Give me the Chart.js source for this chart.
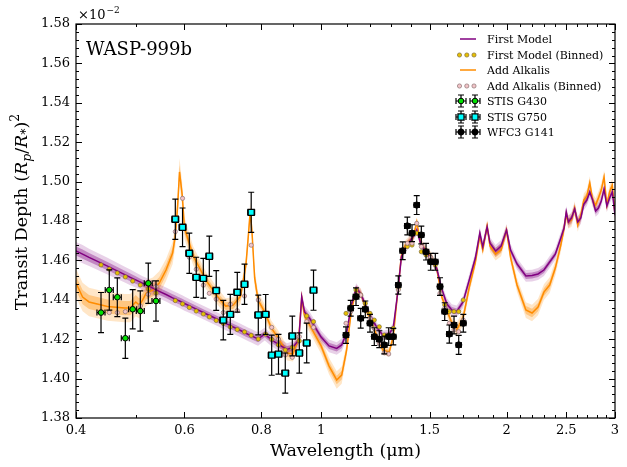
<!DOCTYPE html>
<html><head><meta charset="utf-8">
<script src="https://cdn.jsdelivr.net/npm/chart.js@4.4.1/dist/chart.umd.min.js"></script>
<style>html,body{margin:0;padding:0;background:#fff;}canvas{display:block;}</style>
</head><body>
<canvas id="c" width="627" height="467"></canvas>
<script>
// ---- model spectra (shared wavelength grid, µm) ----
const modelWave = [0.40,0.41,0.42,0.45,0.48,0.49,0.50,0.507,0.513,0.52,0.533,0.546,0.56,0.574,0.58,0.585,0.589,0.595,0.60,0.62,0.65,0.68,0.70,0.72,0.74,0.755,0.762,0.767,0.772,0.78,0.79,0.81,0.83,0.85,0.88,0.90,0.92,0.93,0.94,0.96,1.00,1.03,1.06,1.08,1.10,1.12,1.14,1.16,1.18,1.20,1.23,1.26,1.29,1.31,1.33,1.35,1.37,1.39,1.41,1.43,1.45,1.48,1.51,1.54,1.57,1.60,1.63,1.66,1.70,1.74,1.78,1.81,1.83,1.86,1.88,1.92,1.96,2.00,2.03,2.08,2.15,2.20,2.25,2.30,2.35,2.40,2.45,2.48,2.50,2.52,2.55,2.58,2.61,2.64,2.67,2.70,2.73,2.76,2.79,2.82,2.85,2.88,2.91,2.94,2.97,3.00];
const firstModel = [1.4648,1.4632,1.4615,1.4571,1.4528,1.4514,1.4501,1.4492,1.4484,1.4476,
1.4459,1.4443,1.4427,1.4410,1.4404,1.4398,1.4394,1.4387,1.4381,1.4360,
1.4329,1.4300,1.4280,1.4262,1.4244,1.4230,1.4224,1.4220,1.4216,1.4209,
1.4201,1.4226,1.4198,1.4176,1.4148,1.4158,1.4196,1.4415,1.4338,1.4302,
1.4211,1.4166,1.4153,1.4171,1.4232,1.4374,1.4460,1.4430,1.4374,1.4323,
1.4262,1.4219,1.4226,1.4262,1.4424,1.4617,1.4663,1.4693,1.4719,1.4754,
1.4688,1.4643,1.4607,1.4561,1.4455,1.4379,1.4348,1.4341,1.4389,1.4501,
1.4612,1.4739,1.4668,1.4770,1.4688,1.4648,1.4673,1.4754,1.4653,1.4582,
1.4521,1.4523,1.4531,1.4551,1.4592,1.4632,1.4714,1.4764,1.4846,1.4795,
1.4815,1.4861,1.4795,1.4815,1.4886,1.4906,1.4947,1.4906,1.4851,1.4866,
1.4902,1.4962,1.4876,1.4917,1.4947,1.4830];
const firstModelSigma = [0.0023,0.0023,0.0022,0.0021,0.0020,0.0020,0.0019,0.0018,0.0018,0.0018,
0.0018,0.0018,0.0018,0.0018,0.0018,0.0018,0.0018,0.0018,0.0018,0.0017,
0.0017,0.0017,0.0017,0.0017,0.0017,0.0017,0.0017,0.0017,0.0017,0.0017,
0.0017,0.0016,0.0016,0.0016,0.0016,0.0016,0.0016,0.0016,0.0016,0.0016,
0.0016,0.0016,0.0016,0.0016,0.0016,0.0012,0.0012,0.0012,0.0012,0.0012,
0.0012,0.0012,0.0012,0.0012,0.0012,0.0012,0.0012,0.0012,0.0012,0.0012,
0.0012,0.0012,0.0012,0.0012,0.0012,0.0015,0.0015,0.0015,0.0015,0.0015,
0.0015,0.0015,0.0015,0.0015,0.0015,0.0015,0.0015,0.0015,0.0015,0.0015,
0.0015,0.0015,0.0015,0.0015,0.0015,0.0015,0.0015,0.0015,0.0015,0.0015,
0.0015,0.0015,0.0015,0.0015,0.0015,0.0015,0.0015,0.0015,0.0015,0.0015,
0.0015,0.0015,0.0015,0.0015,0.0015,0.0015];
const alkaliModel = [1.4485,1.4414,1.4389,1.4366,1.4358,1.4358,1.4389,1.4373,1.4398,1.4434,
1.4449,1.4485,1.4551,1.4637,1.4729,1.4881,1.5049,1.4932,1.4764,1.4622,
1.4500,1.4414,1.4368,1.4373,1.4419,1.4577,1.4729,1.4846,1.4754,1.4511,
1.4399,1.4338,1.4257,1.4211,1.4130,1.4125,1.4206,1.4410,1.4318,1.4267,
1.4166,1.4064,1.3993,1.4018,1.4145,1.4348,1.4450,1.4434,1.4358,1.4307,
1.4221,1.4145,1.4135,1.4216,1.4424,1.4627,1.4678,1.4698,1.4714,1.4795,
1.4688,1.4648,1.4617,1.4561,1.4414,1.4348,1.4282,1.4247,1.4307,1.4464,
1.4592,1.4724,1.4653,1.4775,1.4673,1.4632,1.4653,1.4754,1.4617,1.4475,
1.4348,1.4333,1.4363,1.4439,1.4475,1.4561,1.4678,1.4764,1.4830,1.4795,
1.4805,1.4866,1.4779,1.4830,1.4906,1.4926,1.4993,1.4906,1.4881,1.4917,
1.4957,1.5023,1.4881,1.4947,1.4982,1.4835];
const alkaliModelSigma = [0.0036,0.0036,0.0036,0.0036,0.0036,0.0036,0.0036,0.0034,0.0034,0.0033,
0.0032,0.0030,0.0028,0.0028,0.0030,0.0035,0.0035,0.0030,0.0028,0.0024,
0.0022,0.0021,0.0020,0.0020,0.0020,0.0022,0.0025,0.0025,0.0024,0.0022,
0.0020,0.0019,0.0019,0.0019,0.0019,0.0019,0.0019,0.0019,0.0019,0.0019,
0.0020,0.0021,0.0022,0.0022,0.0018,0.0012,0.0012,0.0012,0.0012,0.0012,
0.0012,0.0012,0.0012,0.0012,0.0012,0.0012,0.0012,0.0012,0.0012,0.0012,
0.0012,0.0012,0.0012,0.0012,0.0012,0.0015,0.0017,0.0018,0.0018,0.0016,
0.0015,0.0015,0.0015,0.0015,0.0015,0.0016,0.0016,0.0015,0.0016,0.0018,
0.0020,0.0021,0.0021,0.0020,0.0020,0.0019,0.0017,0.0017,0.0017,0.0017,
0.0017,0.0017,0.0017,0.0017,0.0017,0.0017,0.0017,0.0017,0.0017,0.0017,
0.0017,0.0017,0.0017,0.0017,0.0017,0.0017];

// ---- observations (depth in units of 1e-2) ----
const g430Wave = [0.4392,0.4530,0.4668,0.4810,0.4944,0.5087,0.5241,0.5394];
const g430Depth = [1.4335,1.4450,1.4413,1.4205,1.4352,1.4343,1.4484,1.4394];
const g430Err = [0.0102,0.0102,0.0098,0.0102,0.0100,0.0102,0.0102,0.0102];
const g430WaveErr = [0.0066,0.0068,0.0070,0.0072,0.0074,0.0076,0.0078,0.0080];
const g430BinFirst = [1.4577,1.4556,1.4536,1.4516,1.4495,1.4475,1.4455,1.4434];
const g430BinAlkali = [1.4340,1.4335,1.4335,1.4340,1.4357,1.4369,1.4428,1.4467];

const g750Wave = [0.5798,0.5957,0.6110,0.6270,0.6438,0.6584,0.6756,0.6937,0.7121,0.7310,0.7510,0.7700,0.7907,0.8128,0.8313,0.8527,0.8746,0.8979,0.9217,0.9475,0.9720];
const g750Depth = [1.4809,1.4768,1.4636,1.4514,1.4509,1.4621,1.4447,1.4297,1.4326,1.4438,1.4479,1.4844,1.4323,1.4326,1.4119,1.4124,1.4028,1.4216,1.4130,1.4181,1.4449];
const g750Err = [0.0102,0.0098,0.0102,0.0102,0.0101,0.0102,0.0101,0.0100,0.0102,0.0101,0.0102,0.0102,0.0101,0.0101,0.0102,0.0101,0.0102,0.0101,0.0102,0.0101,0.0102];
const g750WaveErr = [0.0075,0.0077,0.0079,0.0081,0.0083,0.0085,0.0087,0.0090,0.0092,0.0094,0.0097,0.0099,0.0102,0.0105,0.0107,0.0110,0.0113,0.0116,0.0119,0.0122,0.0125];
const g750BinFirst = [1.4396,1.4379,1.4361,1.4343,1.4328,1.4313,1.4295,1.4280,1.4262,1.4249,1.4237,1.4219,1.4201,1.4226,1.4199,1.4171,1.4145,1.4158,1.4191,1.4318,1.4289];
const g750BinAlkali = [1.4746,1.4915,1.4616,1.4555,1.4474,1.4433,1.4403,1.4335,1.4377,1.4345,1.4419,1.4677,1.4399,1.4333,1.4260,1.4200,1.4120,1.4108,1.4213,1.4289,1.4260];

const wfc3Wave = [1.0975,1.1170,1.1393,1.1595,1.1796,1.2005,1.2200,1.2430,1.2663,1.2874,1.3098,1.3345,1.3567,1.3802,1.4047,1.4296,1.4544,1.4802,1.5064,1.5325,1.5597,1.5874,1.6149,1.6435,1.6726,1.7016];
const wfc3Depth = [1.4221,1.4357,1.4416,1.4306,1.4352,1.4281,1.4213,1.4200,1.4171,1.4213,1.4213,1.4475,1.4649,1.4775,1.4738,1.4881,1.4729,1.4644,1.4593,1.4593,1.4467,1.4340,1.4226,1.4272,1.4171,1.4281];
const wfc3Err = [0.0042,0.0040,0.0045,0.0050,0.0042,0.0045,0.0045,0.0043,0.0045,0.0045,0.0042,0.0046,0.0045,0.0045,0.0043,0.0048,0.0045,0.0042,0.0043,0.0043,0.0045,0.0045,0.0046,0.0045,0.0048,0.0045];
const wfc3WaveErr = [0.011,0.011,0.012,0.012,0.012,0.012,0.012,0.013,0.013,0.013,0.013,0.013,0.014,0.014,0.014,0.014,0.014,0.015,0.015,0.015,0.015,0.016,0.016,0.016,0.016,0.017];
const wfc3BinFirst = [1.4331,1.4365,1.4450,1.4424,1.4382,1.4331,1.4297,1.4263,1.4221,1.4221,1.4255,1.4458,1.4644,1.4670,1.4678,1.4738,1.4644,1.4627,1.4611,1.4577,1.4458,1.4374,1.4340,1.4340,1.4340,1.4399];
const wfc3BinAlkali = [1.4281,1.4340,1.4424,1.4424,1.4348,1.4306,1.4255,1.4179,1.4131,1.4125,1.4213,1.4450,1.4644,1.4687,1.4687,1.4788,1.4670,1.4644,1.4616,1.4588,1.4433,1.4357,1.4281,1.4247,1.4238,1.4297];

// ---- axes ----
const xTicks = [0.4,0.6,0.8,1,1.5,2,2.5,3];
const xMinorTicks = [0.5,0.7,0.9,1.1,1.2,1.3,1.4,1.6,1.7,1.8,1.9,2.1,2.2,2.3,2.4,2.6,2.7,2.8,2.9];
const yTicks = [1.38,1.40,1.42,1.44,1.46,1.48,1.50,1.52,1.54,1.56,1.58];
const yMinorStep = 0.004;

const SERIF = '"DejaVu Serif", "Liberation Serif", serif';
const pts = (xs, ys) => xs.map((w, i) => ({x: w, y: ys[i]}));
const band = (ys, sig, k) => modelWave.map((w, i) => ({x: w, y: ys[i] + k * sig[i]}));

function bandPair(ys, sig, k, color, order) {
  return [
    {data: band(ys, sig, k), borderWidth: 0, pointRadius: 0, fill: '+1', backgroundColor: color, order: order},
    {data: band(ys, sig, -k), borderWidth: 0, pointRadius: 0, fill: false, order: order}
  ];
}

const COL = {
  purple: '#800080', orange: '#ff8c00',
  pOuter: 'rgba(128,0,128,0.18)', pInner: 'rgba(128,0,128,0.36)',
  oOuter: 'rgba(255,140,0,0.22)', oInner: 'rgba(255,140,0,0.36)',
  binFirst: '#e8c000', binFirstEdge: '#7d6b3a',
  binAlk: '#f2c4c8', binAlkEdge: '#8a6f6f',
  g430: '#00e000', g750: '#00ffff', wfc3: '#000000'
};
const MK = {bin: 2.1, g430: 2.8, g750: 4.3, wfc3: 3.1};

const binStyle = (bg, edge, order) => ({showLine: false, pointRadius: MK.bin, pointBorderWidth: 0.7, pointBackgroundColor: bg, pointBorderColor: edge, order: order});

const datasets = [
  ...bandPair(alkaliModel, alkaliModelSigma, 2, COL.oOuter, 11),
  ...bandPair(alkaliModel, alkaliModelSigma, 1, COL.oInner, 10),
  ...bandPair(firstModel, firstModelSigma, 2, COL.pOuter, 9),
  ...bandPair(firstModel, firstModelSigma, 1, COL.pInner, 8),
  {data: pts(modelWave, alkaliModel), borderColor: COL.orange, borderWidth: 1.5, pointRadius: 0, fill: false, order: 7},
  {data: pts(modelWave, firstModel), borderColor: COL.purple, borderWidth: 1.5, pointRadius: 0, fill: false, order: 6},
  Object.assign({data: pts(g430Wave, g430BinFirst)}, binStyle(COL.binFirst, COL.binFirstEdge, 5)),
  Object.assign({data: pts(g750Wave, g750BinFirst)}, binStyle(COL.binFirst, COL.binFirstEdge, 5)),
  Object.assign({data: pts(wfc3Wave, wfc3BinFirst)}, binStyle(COL.binFirst, COL.binFirstEdge, 5)),
  Object.assign({data: pts(g430Wave, g430BinAlkali)}, binStyle(COL.binAlk, COL.binAlkEdge, 4)),
  Object.assign({data: pts(g750Wave, g750BinAlkali)}, binStyle(COL.binAlk, COL.binAlkEdge, 4)),
  Object.assign({data: pts(wfc3Wave, wfc3BinAlkali)}, binStyle(COL.binAlk, COL.binAlkEdge, 4)),
  {data: pts(g430Wave, g430Depth), errY: g430Err, errX: g430WaveErr, showLine: false, pointStyle: 'circle', pointRadius: MK.g430, pointBorderWidth: 1, pointBackgroundColor: COL.g430, pointBorderColor: '#000', order: 3},
  {data: pts(g750Wave, g750Depth), errY: g750Err, errX: g750WaveErr, showLine: false, pointStyle: 'rect', pointRadius: MK.g750, pointBorderWidth: 1.3, pointBackgroundColor: COL.g750, pointBorderColor: '#000', order: 2},
  {data: pts(wfc3Wave, wfc3Depth), errY: wfc3Err, errX: wfc3WaveErr, showLine: false, pointStyle: 'circle', pointRadius: MK.wfc3, pointBorderWidth: 1, pointBackgroundColor: COL.wfc3, pointBorderColor: '#000', order: 1}
];

function drawErrGlyph(ctx, cx, cy, x1, x2, y1, y2) {
  ctx.beginPath();
  ctx.moveTo(cx, y1); ctx.lineTo(cx, y2);
  ctx.moveTo(cx - 3, y1); ctx.lineTo(cx + 3, y1);
  ctx.moveTo(cx - 3, y2); ctx.lineTo(cx + 3, y2);
  ctx.moveTo(x1, cy); ctx.lineTo(x2, cy);
  ctx.moveTo(x1, cy - 3); ctx.lineTo(x1, cy + 3);
  ctx.moveTo(x2, cy - 3); ctx.lineTo(x2, cy + 3);
  ctx.stroke();
}

const errorBarPlugin = {
  id: 'errorBars',
  beforeDatasetDraw(chart, args) {
    const ds = chart.data.datasets[args.index];
    if (!ds.errY) return;
    const {ctx, chartArea: a} = chart;
    const xs = chart.scales.x, ys = chart.scales.y;
    ctx.save();
    ctx.beginPath(); ctx.rect(a.left, a.top, a.right - a.left, a.bottom - a.top); ctx.clip();
    ctx.strokeStyle = '#000'; ctx.lineWidth = 1.2;
    ds.data.forEach((p, i) => {
      const cx = xs.getPixelForValue(p.x), cy = ys.getPixelForValue(p.y);
      drawErrGlyph(ctx, cx, cy,
        xs.getPixelForValue(p.x - ds.errX[i]), xs.getPixelForValue(p.x + ds.errX[i]),
        ys.getPixelForValue(p.y - ds.errY[i]), ys.getPixelForValue(p.y + ds.errY[i]));
    });
    ctx.restore();
  }
};

function marker(ctx, style, r, bg, edge, bw, x, y) {
  ctx.fillStyle = bg; ctx.strokeStyle = edge; ctx.lineWidth = bw;
  Chart.helpers.drawPoint(ctx, {pointStyle: style, radius: r, rotation: 0, borderWidth: bw}, x, y);
}

const decorPlugin = {
  id: 'decor',
  afterDraw(chart) {
    const {ctx, chartArea: a} = chart;
    const xs = chart.scales.x, ys = chart.scales.y;
    ctx.save();
    // frame
    ctx.strokeStyle = '#000'; ctx.lineWidth = 1.2;
    ctx.strokeRect(a.left, a.top, a.right - a.left, a.bottom - a.top);
    // ticks (inward, all sides)
    ctx.lineWidth = 1;
    ctx.beginPath();
    const xt = (v, len) => { const p = Math.round(xs.getPixelForValue(v)) + 0.5;
      ctx.moveTo(p, a.bottom); ctx.lineTo(p, a.bottom - len); ctx.moveTo(p, a.top); ctx.lineTo(p, a.top + len); };
    const yt = (v, len) => { const p = Math.round(ys.getPixelForValue(v)) + 0.5;
      ctx.moveTo(a.left, p); ctx.lineTo(a.left + len, p); ctx.moveTo(a.right, p); ctx.lineTo(a.right - len, p); };
    xTicks.forEach(v => xt(v, 6));
    xMinorTicks.forEach(v => xt(v, 3));
    yTicks.forEach(v => yt(v, 6));
    for (let v = yTicks[0]; v < yTicks[yTicks.length - 1] - 1e-9; v += yMinorStep) {
      if (Math.abs(v / 0.02 - Math.round(v / 0.02)) > 1e-6) yt(v, 3);
    }
    ctx.stroke();

    ctx.fillStyle = '#000';
    // offset label
    ctx.textBaseline = 'alphabetic'; ctx.textAlign = 'left';
    ctx.font = '13px ' + SERIF;
    ctx.fillText('\u00d710', 78, 19);
    const w10 = ctx.measureText('\u00d710').width;
    ctx.font = '9px ' + SERIF;
    ctx.fillText('\u22122', 78 + w10 + 1, 13);
    // planet name
    ctx.font = '18px ' + SERIF;
    ctx.fillText('WASP-999b', 86, 55);
    // x title
    ctx.font = '17.5px ' + SERIF; ctx.textAlign = 'center';
    ctx.fillText('Wavelength (\u03bcm)', (a.left + a.right) / 2, 456);
    // y title with math
    const big = '17.5px ' + SERIF, bigI = 'italic 17.5px ' + SERIF, sm = '12.5px ' + SERIF, smI = 'italic 12.5px ' + SERIF;
    const parts = [
      {t: 'Transit Depth (', f: big, dy: 0}, {t: 'R', f: bigI, dy: 0}, {t: 'p', f: smI, dy: 4},
      {t: '/', f: big, dy: 0}, {t: 'R', f: bigI, dy: 0}, {t: '*', f: sm, dy: 3},
      {t: ')', f: big, dy: 0}, {t: '2', f: sm, dy: -8}
    ];
    let tot = 0;
    parts.forEach(p => { ctx.font = p.f; p.w = ctx.measureText(p.t).width; tot += p.w; });
    ctx.save();
    ctx.translate(27, 212); ctx.rotate(-Math.PI / 2);
    ctx.textAlign = 'left';
    let cx = -tot / 2;
    parts.forEach(p => { ctx.font = p.f; ctx.fillText(p.t, cx, p.dy); cx += p.w; });
    ctx.restore();

    // legend
    const lx1 = 460, lx2 = 476, tx = 487;
    const rows = [39, 55, 70, 86, 101, 117, 132];
    ctx.lineWidth = 1.5;
    ctx.strokeStyle = COL.purple; ctx.beginPath(); ctx.moveTo(lx1, rows[0]); ctx.lineTo(lx2, rows[0]); ctx.stroke();
    ctx.strokeStyle = COL.orange; ctx.beginPath(); ctx.moveTo(lx1, rows[2]); ctx.lineTo(lx2, rows[2]); ctx.stroke();
    [459.5, 466.8, 474].forEach(x => {
      marker(ctx, 'circle', MK.bin, COL.binFirst, COL.binFirstEdge, 0.7, x, rows[1]);
      marker(ctx, 'circle', MK.bin, COL.binAlk, COL.binAlkEdge, 0.7, x, rows[3]);
    });
    const eb = [[rows[4], 'circle', MK.g430, COL.g430, 1], [rows[5], 'rect', MK.g750, COL.g750, 1.3], [rows[6], 'circle', MK.wfc3, COL.wfc3, 1]];
    eb.forEach(([y, st, r, bg, bw]) => {
      [461, 475].forEach(x => {
        ctx.strokeStyle = '#000'; ctx.lineWidth = 1.2;
        drawErrGlyph(ctx, x, y, x - 5, x + 5, y - 6, y + 6);
        marker(ctx, st, r, bg, '#000', bw, x, y);
      });
    });
    ctx.fillStyle = '#000'; ctx.font = '11px ' + SERIF; ctx.textAlign = 'left'; ctx.textBaseline = 'middle';
    ['First Model', 'First Model (Binned)', 'Add Alkalis', 'Add Alkalis (Binned)', 'STIS G430', 'STIS G750', 'WFC3 G141']
      .forEach((t, i) => ctx.fillText(t, tx, rows[i] + 1));
    ctx.restore();
  }
};

new Chart(document.getElementById('c'), {
  type: 'line',
  data: {datasets: datasets},
  options: {
    responsive: false, animation: false,
    layout: {padding: {left: 0, right: 12, top: 24, bottom: 0}},
    elements: {line: {tension: 0}},
    plugins: {legend: {display: false}, tooltip: {enabled: false}},
    scales: {
      x: {
        type: 'logarithmic', min: 0.4, max: 3, bounds: 'data',
        afterBuildTicks: s => { s.ticks = xTicks.map(v => ({value: v})); },
        afterFit: s => { s.height = 49; },
        grid: {display: false, drawTicks: false}, border: {display: false},
        ticks: {autoSkip: false, maxRotation: 0, padding: 5, color: '#000', font: {family: SERIF, size: 13},
          callback: v => String(v)}
      },
      y: {
        type: 'linear', min: 1.38, max: 1.58,
        afterBuildTicks: s => { s.ticks = yTicks.map(v => ({value: v})); },
        afterFit: s => { s.width = 76; },
        grid: {display: false, drawTicks: false}, border: {display: false},
        ticks: {autoSkip: false, padding: 6, color: '#000', font: {family: SERIF, size: 13},
          callback: v => Number(v).toFixed(2)}
      }
    }
  },
  plugins: [errorBarPlugin, decorPlugin]
});
</script>
</body></html>
